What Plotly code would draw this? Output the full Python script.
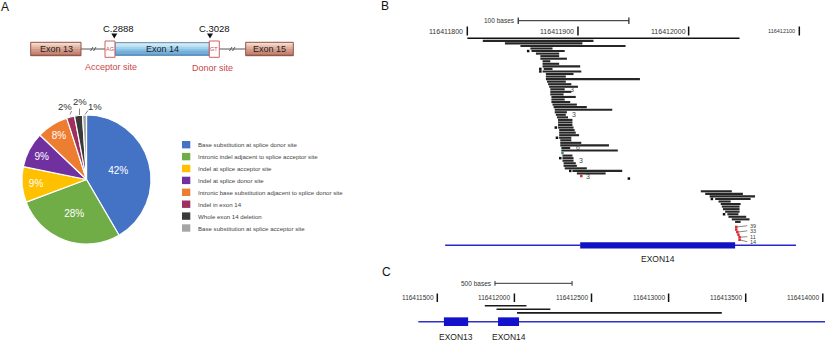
import plotly.graph_objects as go

W, H = 825, 341
FONT = "Liberation Sans, Arial, sans-serif"

# ---------------- Panel A data ----------------
categories = [
    "Base substitution at splice donor site",
    "Intronic indel adjacent to splice acceptor site",
    "Indel at splice acceptor site",
    "Indel at splice donor site",
    "Intronic base substitution adjacent to splice donor site",
    "Indel in exon 14",
    "Whole exon 14 deletion",
    "Base substitution at splice acceptor site",
]
percent = [42, 28, 9, 9, 8, 2, 2, 1]
slice_colors = ["#4472C4", "#70AD47", "#FFC000", "#7030A0", "#ED7D31", "#9E2F5E", "#3A3A3A", "#A5A5A5"]
exon_names = ["Exon 13", "Exon 14", "Exon 15"]
site_names = ["Acceptor site", "Donor site"]
site_codes = ["AG", "GT"]
variant_labels = ["C.2888", "C.3028"]

# ---------------- Panel B data ----------------
b_ticks = [116411800, 116411900, 116412000, 116412100]
b_ref_span = [116411800, 116412046]
b_scale = [116411846, 116411946]
b_read_row = list(range(1, 45)) + [46, 47, 48, 49, 50, 51, 52, 53] + list(range(60, 73))
b_read_start = [
    116411814, 116411834, 116411848, 116411857, 116411858, 116411862, 116411866, 116411866,
    116411868, 116411868, 116411868, 116411869, 116411868, 116411871, 116411871, 116411871,
    116411872, 116411873, 116411874, 116411875, 116411875, 116411875, 116411876, 116411876,
    116411876, 116411877, 116411878, 116411879, 116411879, 116411880, 116411881, 116411882,
    116411882, 116411882, 116411882, 116411883, 116411883, 116411883, 116411883, 116411884,
    116411884, 116411884, 116411885, 116411885,
    116411886, 116411886, 116411886, 116411887, 116411887, 116411888, 116411895, 116411899,
    116412011, 116412015, 116412019, 116412024, 116412027, 116412029, 116412030, 116412031,
    116412033, 116412035, 116412036, 116412039, 116412042,
]
b_read_end = [
    116411914, 116411904, 116411943, 116411877, 116411888, 116411883, 116411883, 116411890,
    116411875, 116411883, 116411902, 116411877, 116411903, 116411896, 116411889, 116411956,
    116411889, 116411894, 116411900, 116411888, 116411894, 116411887, 116411898, 116411888,
    116411893, 116411899, 116411908, 116411931, 116411890, 116411889, 116411891, 116411895,
    116411895, 116411895, 116411896, 116411897, 116411898, 116411901, 116411894, 116411894,
    116411903, 116411928, 116411893, 116411936,
    116411895, 116411896, 116411896, 116411898, 116411899, 116411908, 116411940, 116411925,
    116412039, 116412049, 116412060, 116412056, 116412038, 116412047, 116412046, 116412046,
    116412046, 116412045, 116412052, 116412055, 116412047,
]
b_dot_row = [5, 12, 13, 35, 39, 47, 52, 55, 63, 69, 45, 54, 74, 75, 76, 77, 78, 79]
b_dot_pos = [116411855, 116411866, 116411866, 116411880, 116411881, 116411884, 116411893, 116411946,
             116412021, 116412032, 116411886, 116411903, 116412043, 116412043, 116412044, 116412045,
             116412046, 116412046]
b_dot_kind = ["k"] * 10 + ["g", "r"] + ["r"] * 6
b_count_row = [20, 30, 43, 48, 54]
b_count_pos = [116411891, 116411893, 116411896, 116411899, 116411905]
b_count_text = ["3", "3", "6", "3", "3"]
b_call_dot_row = [74, 76, 78, 79]
b_call_dot_pos = [116412043, 116412044, 116412046, 116412046]
b_call_row = [73.5, 75.5, 77.8, 79.8]
b_call_pos = 116412054
b_call_text = ["39", "33", "11", "14"]
b_gene_span = [116411780, 116412097]
b_exon = [116411902, 116412042]
b_gene_row = 81.2

# ---------------- Panel C data ----------------
c_ticks = [116411500, 116412000, 116412500, 116413000, 116413500, 116414000]
c_scale = [116411874, 116412374]
c_read_row = [0, 1, 2]
c_read_start = [116411808, 116411884, 116412017]
c_read_end = [116412078, 116412233, 116413345]
c_gene_span = [116411377, 116414100]
c_exon_names = ["EXON13", "EXON14"]
c_exon_start = [116411543, 116411894]
c_exon_end = [116411700, 116412030]
c_gene_row = 4.44


def px(x):
    return x / W


def py(y):
    return 1 - y / H


fig = go.Figure()
shapes = []
ann = []


def text(x, y, s, size, color="#222", xanchor="center", xref="paper", yref="paper", **kw):
    if xref == "paper":
        x = px(x)
    if yref == "paper":
        y = py(y)
    ann.append(dict(x=x, y=y, xref=xref, yref=yref, text=s, showarrow=False,
                    xanchor=xanchor, yanchor="middle",
                    font=dict(size=size, color=color, family=FONT), **kw))


def rect(x0, y0, x1, y1, fill, line="rgba(0,0,0,0)", lw=0, xref="paper", yref="paper"):
    if xref == "paper":
        x0, x1 = px(x0), px(x1)
    if yref == "paper":
        y0, y1 = py(y0), py(y1)
    shapes.append(dict(type="rect", x0=x0, x1=x1, y0=y0, y1=y1, xref=xref, yref=yref,
                       fillcolor=fill, line=dict(color=line, width=lw), layer="above"))


def seg(x0, y0, x1, y1, color="#000", lw=1, xref="paper", yref="paper"):
    if xref == "paper":
        x0, x1 = px(x0), px(x1)
    if yref == "paper":
        y0, y1 = py(y0), py(y1)
    shapes.append(dict(type="line", x0=x0, x1=x1, y0=y0, y1=y1, xref=xref, yref=yref,
                       line=dict(color=color, width=lw), layer="above"))


def grad_box(x0, y0, x1, y1, cols, border):
    n = len(cols)
    for i, c in enumerate(cols):
        rect(x0, y0 + (y1 - y0) * i / n, x1, y0 + (y1 - y0) * (i + 1) / n + 0.3, c)
    rect(x0, y0, x1, y1, "rgba(0,0,0,0)", border, 1)


# ---------------- Panel labels ----------------
text(5, 7, "A", 12, "#111")
text(385, 6, "B", 12, "#111")
text(386, 272, "C", 12, "#111")

# ---------------- Panel A schematic ----------------
brown = ["#f4d9cd", "#ecc3b3", "#e0ad9c", "#d49986", "#c68573", "#b2705e"]
blue = ["#d9eef9", "#bfe1f4", "#a2d1ee", "#88c1e6", "#72b0da", "#5e9ccb"]
seg(81, 49, 105, 49, "#555", 1)
seg(219, 49, 246, 49, "#555", 1)
for xs in (90.5, 93.5, 229.5, 232.5):
    seg(xs, 51, xs + 2.5, 47, "#555", 1)
grad_box(30.7, 42.3, 81, 55.7, brown, "#8f5546")
grad_box(115, 42.7, 209.3, 55.3, blue, "#5a86ad")
grad_box(245.7, 42.3, 293.3, 55.7, brown, "#8f5546")
text(56, 49, exon_names[0], 9)
text(162, 49, exon_names[1], 9)
text(269.5, 49, exon_names[2], 9)
for (x0, x1), code in zip([(105, 115), (209.3, 219.3)], site_codes):
    rect(x0, 41, x1, 57.3, "rgba(255,255,255,0.6)", "#d0605f", 1)
    text((x0 + x1) / 2, 49, code, 5.5, "#c9474a")
text(110.7, 66.5, site_names[0], 9, "#c9474a")
text(212.3, 68, site_names[1], 9, "#c9474a")
for xc, lab in zip([114.3, 210.0], variant_labels):
    text(xc + 4.5, 28.5, lab, 9.5, "#111")
    shapes.append(dict(type="path", xref="paper", yref="paper",
                       path=f"M {px(xc-3)} {py(33.5)} L {px(xc+3)} {py(33.5)} L {px(xc)} {py(38.5)} Z",
                       fillcolor="#111", line=dict(width=0), layer="above"))

# ---------------- Pie ----------------
n_inside = 5
fig.add_trace(go.Pie(
    labels=categories, values=percent, sort=False, direction="clockwise", rotation=0,
    marker=dict(colors=slice_colors, line=dict(color="white", width=1.2)),
    texttemplate="%{value}%", textinfo="text",
    textposition=["inside"] * n_inside + ["none"] * (len(percent) - n_inside),
    insidetextorientation="horizontal",
    insidetextfont=dict(color="white", size=10, family=FONT),
    domain=dict(x=[px(21), px(152)], y=[py(244), py(115)]),
    showlegend=False, hoverinfo="label+value",
))
# outside labels for the small slices, placed across the top
out_xy = [(64.5, 106.5), (80, 102), (94.5, 106.5)]
out_lead = [((70, 114.5), (71.5, 111)), ((79.5, 115), (79.5, 108.5)), ((85, 114.5), (88, 110.5))]
for p, (xc, yc), (a, b) in zip(percent[n_inside:], out_xy, out_lead):
    text(xc, yc, f"{p}%", 9.5, "#333")
    seg(a[0], a[1], b[0], b[1], "#666", 0.8)

# custom legend
for i, (lab, col) in enumerate(zip(categories, slice_colors)):
    yc = 144.7 + 11.9 * i
    rect(182, yc - 3.7, 190.3, yc + 3.7, col)
    text(196, yc, lab, 6.1, "#444", xanchor="left")

# ---------------- Panel B ----------------
bx0 = 116411800 + (429 - 467.3) / 1.1067
bx1 = 116411800 + (820.9 - 467.3) / 1.1067
by0 = (0 - 38.3) / 2.55
by1 = (341 - 38.3) / 2.55
fig.update_layout(
    xaxis2=dict(domain=[px(429), px(820.9)], range=[bx0, bx1], visible=False, anchor="y2"),
    yaxis2=dict(domain=[0, 1], range=[by1, by0], visible=False, anchor="x2"),
)
# scale bar
seg(b_scale[0], 20.7, b_scale[1], 20.7, "#222", 1, xref="x2")
for xv in b_scale:
    seg(xv, 17.5, xv, 24, "#222", 1.2, xref="x2")
text(b_scale[0], 20.7, "100 bases ", 6.5, "#333", xanchor="right", xref="x2")
for i, t in enumerate(b_ticks):
    seg(t, 26.5, t, 35.5, "#111", 1.5, xref="x2")
    text(t, 31, f"{t} ", 5.5 if i == len(b_ticks) - 1 else 7, "#333", xanchor="right", xref="x2")

fig.add_trace(go.Scatter(x=b_ref_span, y=[0, 0], xaxis="x2", yaxis="y2", mode="lines",
                         line=dict(color="#111", width=1.5), showlegend=False, hoverinfo="skip"))
xs, ys = [], []
for r, s, e in zip(b_read_row, b_read_start, b_read_end):
    xs += [s, e, None]
    ys += [r, r, None]
fig.add_trace(go.Scatter(x=xs, y=ys, xaxis="x2", yaxis="y2", mode="lines",
                         line=dict(color="#262626", width=2.1), showlegend=False, hoverinfo="skip"))
# callout leader lines
xs, ys = [], []
for r, p, rr in zip(b_call_dot_row, b_call_dot_pos, b_call_row):
    xs += [p, b_call_pos - 1, None]
    ys += [r, rr, None]
fig.add_trace(go.Scatter(x=xs, y=ys, xaxis="x2", yaxis="y2", mode="lines",
                         line=dict(color="#555", width=0.7), showlegend=False, hoverinfo="skip"))
kind_col = {"k": "#111", "g": "#3a8f6a", "r": "#e0262b"}
fig.add_trace(go.Scatter(x=b_dot_pos, y=b_dot_row, xaxis="x2", yaxis="y2", mode="markers",
                         marker=dict(symbol="square", size=2.5, color=[kind_col[k] for k in b_dot_kind], line=dict(width=0)),
                         showlegend=False, hoverinfo="skip"))
for r, p, t in zip(b_count_row, b_count_pos, b_count_text):
    text(p, r, t, 7, "#444", xanchor="left", xref="x2", yref="y2")
for r, t in zip(b_call_row, b_call_text):
    text(b_call_pos, r, t, 5.5, "#444", xanchor="left", xref="x2", yref="y2")
# gene track
fig.add_trace(go.Scatter(x=b_gene_span, y=[b_gene_row, b_gene_row], xaxis="x2", yaxis="y2", mode="lines",
                         line=dict(color="#2626d0", width=1.5), showlegend=False, hoverinfo="skip"))
rect(b_exon[0], b_gene_row - 1.2, b_exon[1], b_gene_row + 1.2, "#1212c4", xref="x2", yref="y2")
fig.add_trace(go.Scatter(x=b_exon, y=[b_gene_row, b_gene_row], xaxis="x2", yaxis="y2", mode="lines",
                         line=dict(color="#c8c8ff", width=1, dash="3px,2px"), showlegend=False, hoverinfo="skip"))
text((b_exon[0] + b_exon[1]) / 2, 258.5, "EXON14", 8.5, "#222", xref="x2")

# ---------------- Panel C ----------------
cscale = 0.1542
cx0 = 116411500 + (400 - 437.3) / cscale
cx1 = 116411500 + (825 - 437.3) / cscale
cy0 = (0 - 305.7) / 3.6
cy1 = (341 - 305.7) / 3.6
fig.update_layout(
    xaxis3=dict(domain=[px(400), 1], range=[cx0, cx1], visible=False, anchor="y3"),
    yaxis3=dict(domain=[0, 1], range=[cy1, cy0], visible=False, anchor="x3"),
)
seg(c_scale[0], 283.3, c_scale[1], 283.3, "#333", 1, xref="x3")
for xv in c_scale:
    seg(xv, 281, xv, 285.8, "#333", 1, xref="x3")
text(c_scale[0], 283.3, "500 bases ", 6.5, "#333", xanchor="right", xref="x3")
for t in c_ticks:
    seg(t, 293.5, t, 302, "#111", 1.5, xref="x3")
    text(t, 297.7, f"{t} ", 6.5, "#333", xanchor="right", xref="x3")
xs, ys = [], []
for r, s, e in zip(c_read_row, c_read_start, c_read_end):
    xs += [s, e, None]
    ys += [r, r, None]
fig.add_trace(go.Scatter(x=xs, y=ys, xaxis="x3", yaxis="y3", mode="lines",
                         line=dict(color="#1a1a1a", width=1.6), showlegend=False, hoverinfo="skip"))
fig.add_trace(go.Scatter(x=c_gene_span, y=[c_gene_row, c_gene_row], xaxis="x3", yaxis="y3", mode="lines",
                         line=dict(color="#3030c8", width=1.5), showlegend=False, hoverinfo="skip"))
for name, s, e in zip(c_exon_names, c_exon_start, c_exon_end):
    rect(s, c_gene_row - 1.2, e, c_gene_row + 1.2, "#1212cc", xref="x3", yref="y3")
    text((s + e) / 2, 336.5, name, 8.5, "#222", xref="x3")
xs, ys = [], []
for s, e in zip(c_exon_start, c_exon_end):
    xs += [s + 25, e - 25, None]
    ys += [c_gene_row, c_gene_row, None]
fig.add_trace(go.Scatter(x=xs, y=ys, xaxis="x3", yaxis="y3", mode="lines",
                         line=dict(color="#c8c8ff", width=1, dash="3px,2px"), showlegend=False, hoverinfo="skip"))

fig.update_layout(
    width=W, height=H, margin=dict(l=0, r=0, t=0, b=0),
    paper_bgcolor="white", plot_bgcolor="rgba(0,0,0,0)",
    shapes=shapes, annotations=ann, showlegend=False,
    font=dict(family=FONT),
)
fig.write_html("out.html", config={"displayModeBar": False},
               post_script="document.body.style.margin='0px';document.body.style.padding='0px';")
